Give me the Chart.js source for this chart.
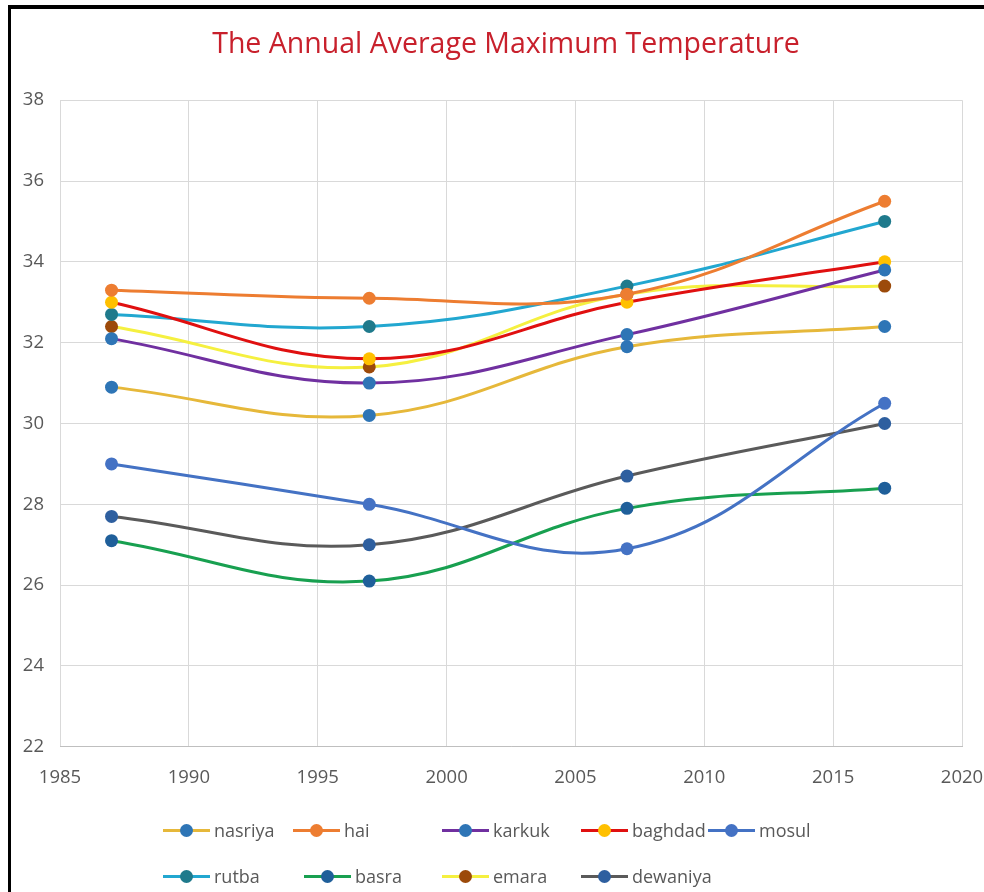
<!DOCTYPE html>
<html>
<head>
<meta charset="utf-8">
<script src="https://cdn.jsdelivr.net/npm/chart.js@4/dist/chart.umd.min.js"></script>
<style>
  html, body { margin: 0; padding: 0; background: #fff; }
  #wrap { position: relative; width: 984px; height: 892px; overflow: hidden; }
  #frame { position: absolute; left: 8px; top: 5px; width: 990px; height: 900px;
           border-left: 3px solid #000; border-top: 4px solid #000; box-sizing: border-box; }
  #chart { position: absolute; left: 0; top: 0; }
  #legend { position: absolute; left: 0; top: 0; width: 984px; height: 892px; pointer-events: none;
            font-family: "Open Sans", sans-serif; font-size: 18px; color: #595959; }
  .item { position: absolute; display: flex; align-items: center; height: 20px; white-space: nowrap; }
  .key { position: relative; width: 47px; height: 3px; margin-right: 4px; }
  .key i { position: absolute; left: 17px; top: -5px; width: 13px; height: 13px; border-radius: 50%; }
</style>
</head>
<body>
<div id="wrap">
  <canvas id="chart" width="1002" height="892"></canvas>
  <div id="frame"></div>
  <div id="legend"></div>
</div>
<script>
// years of the readings
const years = [1987, 1997, 2007, 2017];

// annual average max temperature per station
const nasriya = [30.9, 30.2, 31.9, 32.4];
const hai = [33.3, 33.1, 33.2, 35.5];
const karkuk = [32.1, 31.0, 32.2, 33.8];
const baghdad = [33.0, 31.6, 33.0, 34.0];
const mosul = [29.0, 28.0, 26.9, 30.5];
const rutba = [32.7, 32.4, 33.4, 35.0];
const basra = [27.1, 26.1, 27.9, 28.4];
const emara = [32.4, 31.4, 33.2, 33.4];
const dewaniya = [27.7, 27.0, 28.7, 30.0];

const yTicks = [22, 24, 26, 28, 30, 32, 34, 36, 38];
const xTicks = [1985, 1990, 1995, 2000, 2005, 2010, 2015, 2020];

// name, values, line colour, marker colour
const series = [
  ["nasriya", nasriya, "#E6B83A", "#2E75B6"],
  ["hai", hai, "#ED7D31", "#ED7D31"],
  ["karkuk", karkuk, "#7030A0", "#2E75B6"],
  ["baghdad", baghdad, "#E01010", "#FFC000"],
  ["mosul", mosul, "#4472C4", "#4472C4"],
  ["rutba", rutba, "#22A7D0", "#1F7A8C"],
  ["basra", basra, "#18A050", "#1F5F9A"],
  ["emara", emara, "#F5F040", "#9C4A0A"],
  ["dewaniya", dewaniya, "#5A5A5A", "#2E5F9F"],
];

const datasets = series.map(([name, vals, line, marker]) => ({
  label: name,
  data: years.map((y, i) => ({ x: y, y: vals[i] })),
  borderColor: line,
  backgroundColor: marker,
  pointBackgroundColor: marker,
  pointBorderColor: marker,
  pointRadius: 6.5,
  pointBorderWidth: 0,
  borderWidth: 3,
  tension: 0.4,
  fill: false,
}));

new Chart(document.getElementById("chart"), {
  type: "line",
  data: { datasets: datasets },
  options: {
    responsive: false,
    animation: false,
    layout: { padding: { left: 10, right: 0, top: 0, bottom: 83 } },
    plugins: {
      legend: { display: false },
      tooltip: { enabled: false },
      title: {
        display: true,
        text: "The Annual Average Maximum Temperature",
        color: "#C8202C",
        font: { family: "Open Sans", size: 28.5, weight: "normal", lineHeight: 1.2 },
        padding: { top: 28, bottom: 38 },
      },
    },
    scales: {
      x: {
        type: "linear",
        min: 1985,
        max: 2020,
        afterBuildTicks: (s) => { s.ticks = xTicks.map((v) => ({ value: v })); },
        afterFit: (s) => { s.paddingRight = 40; s.paddingLeft = 0; },
        ticks: {
          color: "#595959",
          font: { family: "Open Sans", size: 18.5 },
          padding: 20,
          maxRotation: 0,
          autoSkip: false,
          callback: (v) => String(v),
        },
        grid: { color: "#d9d9d9", drawTicks: false, lineWidth: 1 },
        border: { color: "#bfbfbf", width: 1 },
      },
      y: {
        min: 22,
        max: 38,
        afterBuildTicks: (s) => { s.ticks = yTicks.map((v) => ({ value: v })); },
        afterFit: (s) => { s.width = 50; },
        ticks: {
          color: "#595959",
          font: { family: "Open Sans", size: 18.5 },
          padding: 16,
        },
        grid: { color: "#d9d9d9", drawTicks: false, lineWidth: 1 },
        border: { display: false },
      },
    },
  },
});

// legend placed like the original two rows
const legendPos = [
  [163, 820], [293, 820], [442, 820], [581, 820], [708, 820],
  [163, 866], [304, 866], [442, 866], [581, 866],
];
const legendEl = document.getElementById("legend");
series.forEach(([name, , line, marker], i) => {
  const item = document.createElement("div");
  item.className = "item";
  item.style.left = legendPos[i][0] + "px";
  item.style.top = legendPos[i][1] + "px";
  item.innerHTML = `<span class="key" style="background:${line}"><i style="background:${marker}"></i></span><span>${name}</span>`;
  legendEl.appendChild(item);
});
</script>
</body>
</html>
